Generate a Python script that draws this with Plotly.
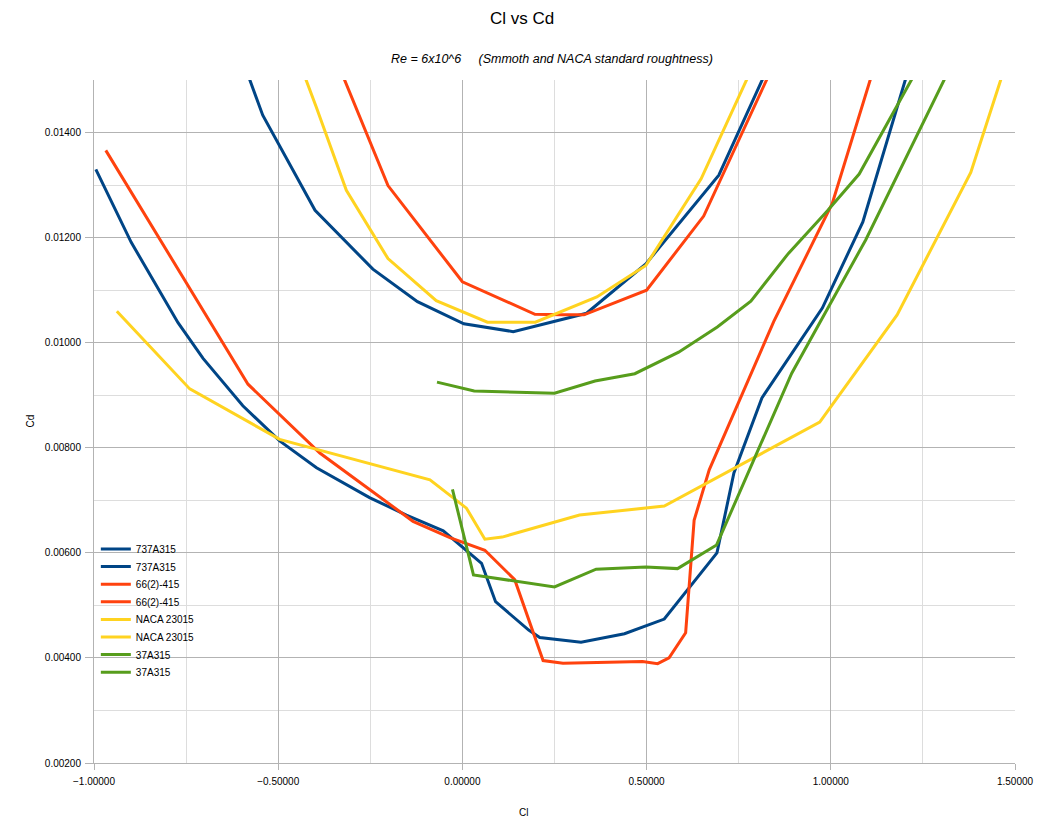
import plotly.graph_objects as go

# ---- data (Cl, Cd) ----
cl_737_smooth = [-0.995, -0.899, -0.772, -0.704, -0.596, -0.496, -0.396, -0.252, -0.152, -0.052,
                 0.052, 0.090, 0.180, 0.210, 0.322, 0.440, 0.548, 0.691, 0.737, 0.813, 0.977, 1.087, 1.215]
cd_737_smooth = [0.01330, 0.01191, 0.01038, 0.00970, 0.00880, 0.00813, 0.00762, 0.00705, 0.00672, 0.00642,
                 0.00580, 0.00507, 0.00453, 0.00439, 0.00430, 0.00446, 0.00474, 0.00600, 0.00752, 0.00895, 0.01066, 0.01230, 0.01530]

cl_737_rough = [-0.590, -0.542, -0.400, -0.243, -0.122, 0.004, 0.138, 0.337, 0.498, 0.696, 0.830]
cd_737_rough = [0.01525, 0.01433, 0.01252, 0.01140, 0.01078, 0.01036, 0.01021, 0.01056, 0.01150, 0.01319, 0.01525]

cl_66_smooth = [-0.968, -0.582, -0.387, -0.134, -0.034, 0.061, 0.142, 0.219, 0.273, 0.489, 0.530, 0.561,
                0.606, 0.629, 0.670, 0.845, 1.004, 1.120]
cd_66_smooth = [0.01366, 0.00921, 0.00790, 0.00660, 0.00629, 0.00605, 0.00549, 0.00395, 0.00390, 0.00393, 0.00389, 0.00400,
                0.00448, 0.00662, 0.00758, 0.01040, 0.01265, 0.01530]

cl_66_rough = [-0.335, -0.202, 0.000, 0.197, 0.270, 0.330, 0.500, 0.655, 0.840]
cd_66_rough = [0.01526, 0.01299, 0.01116, 0.01054, 0.01053, 0.01053, 0.01100, 0.01241, 0.01522]

cl_naca_smooth = [-0.938, -0.740, -0.496, -0.088, 0.011, 0.061, 0.108, 0.318, 0.548, 0.970, 1.180, 1.380, 1.475]
cd_naca_smooth = [0.01060, 0.00912, 0.00816, 0.00739, 0.00685, 0.00626, 0.00630, 0.00672, 0.00689, 0.00849, 0.01053, 0.01324, 0.01530]

cl_naca_rough = [-0.435, -0.397, -0.315, -0.202, -0.071, 0.068, 0.198, 0.365, 0.498, 0.648, 0.785]
cd_naca_rough = [0.01520, 0.01449, 0.01290, 0.01160, 0.01080, 0.01039, 0.01039, 0.01087, 0.01147, 0.01312, 0.01521]

cl_37_smooth = [-0.027, 0.030, 0.250, 0.363, 0.498, 0.584, 0.690, 0.894, 1.095, 1.325]
cd_37_smooth = [0.00721, 0.00558, 0.00535, 0.00569, 0.00573, 0.00570, 0.00615, 0.00942, 0.01196, 0.01525]

cl_37_rough = [-0.069, 0.032, 0.250, 0.360, 0.468, 0.587, 0.692, 0.783, 0.885, 0.991, 1.077, 1.240]
cd_37_rough = [0.00925, 0.00908, 0.00904, 0.00927, 0.00941, 0.00982, 0.01030, 0.01079, 0.01170, 0.01251, 0.01321, 0.01527]

series_names = ["737A315", "737A315", "66(2)-415", "66(2)-415",
                "NACA 23015", "NACA 23015", "37A315", "37A315"]
series_x = [cl_737_smooth, cl_737_rough, cl_66_smooth, cl_66_rough,
            cl_naca_smooth, cl_naca_rough, cl_37_smooth, cl_37_rough]
series_y = [cd_737_smooth, cd_737_rough, cd_66_smooth, cd_66_rough,
            cd_naca_smooth, cd_naca_rough, cd_37_smooth, cd_37_rough]
colors = ["#004586", "#004586", "#ff420e", "#ff420e",
          "#ffd320", "#ffd320", "#579d1c", "#579d1c"]

FONT = "Liberation Sans, Arial, sans-serif"

# page offset (browser body margin) is 8px; geometry below targets the reference page pixels
W, H = 1035, 812
ML, MR, MT, MB = 86, 28, 72, 57
PLOT_W = W - ML - MR
PLOT_H = H - MT - MB

fig = go.Figure()
legend_layouts = {}
for i, (name, xs, ys, col) in enumerate(zip(series_names, series_x, series_y, colors)):
    key = "legend" if i == 0 else f"legend{i + 1}"
    fig.add_trace(go.Scatter(x=xs, y=ys, mode="lines", name=name,
                             line=dict(color=col, width=3), legend=key))
    page_y = 549 + i * 17.6
    legend_layouts[key] = dict(
        x=0.002, y=(763 - page_y) / PLOT_H, xanchor="left", yanchor="middle",
        bgcolor="rgba(0,0,0,0)", borderwidth=0, itemwidth=30,
        font=dict(family=FONT, size=10, color="#000000"))

fig.update_layout(
    width=W, height=H,
    paper_bgcolor="white", plot_bgcolor="white",
    margin=dict(l=ML, r=MR, t=MT, b=MB, autoexpand=False),
    font=dict(family=FONT, size=10, color="#000000"),
    title=dict(text="Cl vs Cd", xref="container", x=514 / W, xanchor="center",
               yref="container", y=1 - 10 / H, yanchor="middle",
               font=dict(family=FONT, size=17, color="#000000")),
    showlegend=True,
    annotations=[
        dict(text="<i>Re = 6x10^6&nbsp;&nbsp;&nbsp;&nbsp; (Smmoth and NACA standard roughtness)</i>",
             xref="paper", yref="paper", x=0.497, y=1.0, yshift=21,
             xanchor="center", yanchor="middle", showarrow=False,
             font=dict(family=FONT, size=12.5, color="#000000")),
        dict(text="Cl", xref="paper", yref="paper", x=(523 - 94) / PLOT_W, y=0, yshift=-49,
             xanchor="center", yanchor="middle", showarrow=False,
             font=dict(family=FONT, size=10, color="#000000")),
        dict(text="Cd", xref="paper", yref="paper", x=0, xshift=-64, y=0.5,
             xanchor="center", yanchor="middle", textangle=-90, showarrow=False,
             font=dict(family=FONT, size=10, color="#000000")),
    ],
    **legend_layouts,
)

fig.update_xaxes(range=[-1.0, 1.5], tick0=-1.0, dtick=0.5, tickformat=".5f",
                 showgrid=True, gridcolor="#b3b3b3", gridwidth=1,
                 minor=dict(dtick=0.25, showgrid=True, gridcolor="#dddddd", gridwidth=1),
                 showline=True, linecolor="#b3b3b3", linewidth=1,
                 ticks="outside", ticklen=6, tickcolor="#b3b3b3",
                 ticklabelstandoff=3, zeroline=False,
                 tickfont=dict(family=FONT, size=10))
fig.update_yaxes(range=[0.002, 0.015], tick0=0.002, dtick=0.002, tickformat=".5f",
                 showgrid=True, gridcolor="#b3b3b3", gridwidth=1,
                 minor=dict(dtick=0.001, showgrid=True, gridcolor="#dddddd", gridwidth=1),
                 showline=True, linecolor="#b3b3b3", linewidth=1,
                 ticks="outside", ticklen=8, tickcolor="#b3b3b3",
                 ticklabelstandoff=2, zeroline=False,
                 tickfont=dict(family=FONT, size=10))

fig.write_html("out.html")
